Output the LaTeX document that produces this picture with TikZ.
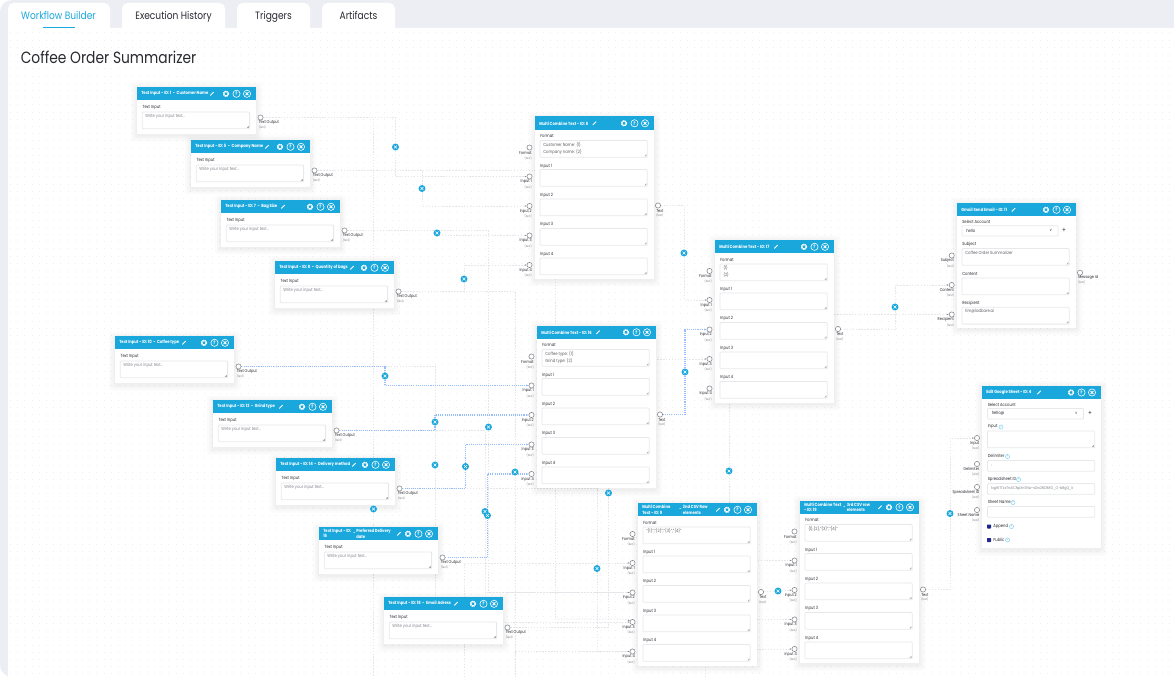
\documentclass[tikz,border=0pt]{standalone}
\usepackage{fontspec}
\setmainfont{Poppins}[FakeStretch=0.85]
\usetikzlibrary{arrows.meta}

\definecolor{flowblue}{RGB}{26,167,220}
\definecolor{framegray}{RGB}{236,238,243}
\definecolor{griddot}{RGB}{238,239,243}
\definecolor{wiregray}{RGB}{228,230,234}
\definecolor{wireblue}{RGB}{150,190,250}
\definecolor{boxgray}{RGB}{230,232,236}
\definecolor{inktext}{RGB}{40,42,48}
\definecolor{softtext}{RGB}{130,133,140}
\definecolor{navycheck}{RGB}{30,40,140}

\pgfdeclarelayer{panellayer}
\pgfdeclarelayer{wirelayer}
\pgfsetlayers{panellayer,wirelayer,main}

\tikzset{
  wire/.style={draw=wiregray,line width=.6pt,dash pattern=on 1.1pt off 1.1pt,-{Latex[length=1.4pt,width=1.1pt,color=softtext]}},
  wireplain/.style={draw=wiregray,line width=.6pt,dash pattern=on 1.1pt off 1.1pt},
  bluewire/.style={draw=wireblue,line width=.8pt,dash pattern=on .8pt off .8pt,-{Latex[length=1.8pt,width=1.5pt]}},
  cardfill/.style={fill=white,anchor=north west,inner sep=0,outer sep=0,minimum width=89.25pt},
  headfill/.style={fill=flowblue,anchor=north west,inner sep=0,outer sep=0,minimum width=89.25pt,minimum height=10.1pt},
  headtext/.style={text=white,anchor=west,inner sep=0,align=left,font=\fontsize{3.3}{3.9}\selectfont\bfseries},
  pencil/.style={fill=white,rotate=45,inner sep=0,minimum width=3.6pt,minimum height=.7pt},
  gearicon/.style={circle,inner sep=0,minimum size=3.6pt,fill=flowblue,draw=white,line width=1.2pt,dash pattern=on .85pt off .6pt,
    preaction={draw=white,line width=.6pt,dash pattern=on 20pt off 0pt}},
  helpicon/.style={circle,draw=white,line width=.45pt,inner sep=0,minimum size=5.4pt,text=white,font=\fontsize{3.6}{4}\selectfont\bfseries},
  closeicon/.style={circle,draw=white,line width=.45pt,inner sep=0,minimum size=5.4pt,
    path picture={\draw[white,line width=.6pt] ([xshift=-1.1pt,yshift=-1.1pt]path picture bounding box.center) -- ([xshift=1.1pt,yshift=1.1pt]path picture bounding box.center);
      \draw[white,line width=.6pt] ([xshift=-1.1pt,yshift=1.1pt]path picture bounding box.center) -- ([xshift=1.1pt,yshift=-1.1pt]path picture bounding box.center);}},
  delbtn/.style={circle,fill=flowblue,inner sep=0,minimum size=5.2pt,
    path picture={\draw[white,line width=.45pt] ([xshift=-1.1pt,yshift=-1.1pt]path picture bounding box.center) -- ([xshift=1.1pt,yshift=1.1pt]path picture bounding box.center);
      \draw[white,line width=.45pt] ([xshift=-1.1pt,yshift=1.1pt]path picture bounding box.center) -- ([xshift=1.1pt,yshift=-1.1pt]path picture bounding box.center);}},
  port/.style={circle,fill=white,draw=softtext,line width=.4pt,inner sep=0,minimum size=3.9pt},
  portlab/.style={text=inktext,inner sep=0,font=\fontsize{3.1}{4}\selectfont},
  porttype/.style={text=softtext,inner sep=0,font=\fontsize{2.3}{3}\selectfont},
  fieldlab/.style={text=inktext,anchor=west,inner sep=0,font=\fontsize{3.3}{4}\selectfont},
  fieldtext/.style={text=inktext!75,anchor=north west,inner sep=0,align=left,font=\fontsize{3.3}{5}\selectfont},
  hinttext/.style={text=softtext,anchor=north west,inner sep=0,font=\fontsize{3.3}{5}\selectfont},
  linebox/.style={draw=boxgray,fill=white,line width=.6pt,rounded corners=.7pt,anchor=north west,inner sep=0,outer sep=0,minimum width=80.5pt},
  fieldbox/.style={linebox,minimum height=12.6pt,
    path picture={\draw[softtext,line width=.25pt] ([xshift=-2pt,yshift=.7pt]path picture bounding box.south east) -- ([xshift=-.7pt,yshift=2pt]path picture bounding box.south east);
      \draw[softtext,line width=.25pt] ([xshift=-1.2pt,yshift=.7pt]path picture bounding box.south east) -- ([xshift=-.7pt,yshift=1.2pt]path picture bounding box.south east);}},
  helpdot/.style={circle,draw=flowblue!55,line width=.35pt,inner sep=0,minimum size=3.1pt,text=flowblue!70,font=\fontsize{2.2}{2.5}\selectfont},
  checkbox/.style={fill=navycheck,rounded corners=.4pt,inner sep=0,minimum size=3pt,text=white,font=\fontsize{2.4}{2.5}\selectfont},
  plussign/.style={text=inktext,inner sep=0,font=\fontsize{5}{5}\selectfont},
  tab/.style={fill=white,rounded corners=4pt},
  tablabel/.style={text=inktext,anchor=base,inner sep=0,font=\fontsize{8}{9}\selectfont},
}

\newcommand{\softcard}[4]{%
  \foreach \spread in {1,2.5,4,6}
    \fill[black,opacity=.014,rounded corners=2pt] ({#2-\spread},{#3-\spread+1.5}) rectangle ({#2+119+\spread},{#3+#4+\spread+1.5});
  \node [cardfill,minimum height={#4*0.75pt}] (#1) at (#2,#3) {};
}
\newcommand{\headbar}[5]{%
  \node [headfill] (#1head) at (#2,#3) {};
  \node [headtext] (#1title) at ({#2+4},{#3+6.8}) {#5};
  \node [pencil] (#1pen) at ({#2+#4},{#3+6.8}) {};
  \node [gearicon] (#1gear) at ({#2+89},{#3+6.8}) {};
  \node [helpicon] (#1help) at ({#2+99.5},{#3+6.8}) {?};
  \node [closeicon] (#1close) at ({#2+110},{#3+6.8}) {};
}
\newcommand{\inport}[4]{%
  \node [port] (#1) at (#2,#3) {};
  \node [portlab,anchor=east] (#1lab) at ({#2+2.5},{#3+5.3}) {#4};
  \node [porttype,anchor=east] (#1type) at ({#2+2.5},{#3+10.8}) {(text)};
}
\newcommand{\outport}[4]{%
  \node [port] (#1) at (#2,#3) {};
  \node [portlab,anchor=west] (#1lab) at ({#2-2},{#3+5.2}) {#4};
  \node [porttype,anchor=west] (#1type) at ({#2-2},{#3+10}) {(text)};
}
% text input card
\newcommand{\textcard}[5]{%
  \softcard{#1}{#2}{#3}{47}
  \headbar{#1}{#2}{#3}{#4}{#5}
  \node [fieldlab] (#1lab) at ({#2+5.3},{#3+20.5}) {Text Input};
  \node [fieldbox] (#1box) at ({#2+5.3},{#3+25}) {};
  \node [hinttext] (#1hint) at ({#2+8},{#3+27}) {Write your input text...};
  \outport{#1out}{#2+123.5}{#3+30.5}{Text Output}
}
% multi combine card
\newcommand{\combcard}[6]{%
  \softcard{#1}{#2}{#3}{162.5}
  \headbar{#1}{#2}{#3}{#4}{#5}
  \node [fieldlab] (#1fmtlab) at ({#2+5},{#3+19.5}) {Format};
  \node [fieldbox] (#1fmtbox) at ({#2+5},{#3+24}) {};
  \node [fieldtext] (#1fmttext) at ({#2+8},{#3+25.5}) {#6};
  \inport{#1fmt}{#2-5.5}{#3+31}{Format}
  \foreach \n/\py/\ly/\by in {1/60/49.5/53,2/89.5/78.7/82.5,3/119/108/112,4/148.5/137.5/141.5} {
    \node [fieldlab] (#1lab\n) at ({#2+5},{#3+\ly}) {Input \n};
    \node [fieldbox] (#1box\n) at ({#2+5},{#3+\by}) {};
    \inport{#1in\n}{#2-5.5}{#3+\py}{Input \n}
  }
  \outport{#1out}{#2+123}{#3+89}{Text}
}

\begin{document}
\begin{tikzpicture}[x=0.75pt,y=0.75pt,yscale=-1,xscale=1]
\useasboundingbox (0,0) rectangle (1174,677);

\begin{pgfonlayer}{panellayer}
%Frame and panel
\fill [framegray,rounded corners=9pt] (0,0) rectangle (1190,677);
\fill [white,rounded corners=6pt] (8,28) rectangle (1190,690);
\fill [white] (8,28) rectangle (30,60);
%Tabs
\fill [tab] (8,3) rectangle (110,40);
\fill [tab] (122,3) rectangle (225,40);
\fill [tab] (237,3) rectangle (310,40);
\fill [tab] (322,3) rectangle (395,40);
\fill [white] (8,28) rectangle (1190,40);
%Dots
\foreach \ypos in {33,40.2,...,677}
  \draw [griddot,line width=.75pt,dash pattern=on .75pt off 4.65pt] (10,\ypos) -- (1174,\ypos);
\end{pgfonlayer}

% Text Node
\node [tablabel,text=flowblue] (tabbuilder) at (58.5,20) {Workflow Builder};
\node [tablabel] (tabhistory) at (173.5,20) {Execution History};
\node [tablabel] (tabtriggers) at (273.5,20) {Triggers};
\node [tablabel] (tabartifacts) at (358.5,20) {Artifacts};
\fill [flowblue] (43,27) rectangle (75,28.5);
\node [inner sep=0,anchor=base west,text=inktext,font=\fontsize{12.2}{15}\selectfont] (pagetitle) at (20.5,64) {Coffee Order Summarizer};

%Text input cards
\textcard{tone}{137}{87}{75}{Text Input - ID: 1 \ -\ \ Customer Name}
\textcard{tfive}{191}{140}{76}{Text Input - ID: 5 \ -\ \ Company Name}
\textcard{tseven}{221}{200}{62}{Text Input - ID: 7 \ -\ \ Bag Size}
\textcard{teight}{275}{261}{77}{Text Input - ID: 8 \ -\ \ Quantity of bags}
\textcard{tten}{115}{336}{69}{Text Input - ID: 10 \ -\ \ Coffee type}
\textcard{ttwelve}{213}{400}{68}{Text Input - ID: 12 \ -\ \ Grind type}
\textcard{tfourteen}{276}{458}{78}{Text Input - ID: 14 \ -\ \ Delivery method}
\textcard{tsixteen}{319}{527}{80}{Text Input - ID:\\16}
\node [headtext] (tsixteendash) at (353,533.8) {-};
\node [headtext] (tsixteensub) at (356,533.8) {Preferred Delivery\\date};
\textcard{teighteen}{384}{597}{72}{Text Input - ID: 18 \ -\ \ Email Adress}

%Multi combine cards
\combcard{mone}{535}{116.5}{59.5}{Multi Combine Text - ID: 6}{Customer Name: \{1\}\\Company name: \{2\}}
\combcard{mtwo}{537}{325.5}{61}{Multi Combine Text - ID: 16}{Coffee type: \{1\}\\Grind type: \{2\}}
\combcard{mthree}{715}{240}{61}{Multi Combine Text - ID: 17}{\{1\}\\\{2\}}
\combcard{mfour}{638}{503}{80}{Multi Combine\\Text - ID: 9}{"\{1\}","\{2\}","\{3\}","\{4\}"}
\node [headtext] (mfourdash) at (679,509.8) {-};
\node [headtext] (mfoursub) at (682.7,509.8) {2nd CSV Row\\elements};
\combcard{mfive}{800}{500.5}{80}{Multi Combine Text\\- ID: 19}{\{1\},\{2\},"\{3\}","\{4\}"}
\node [headtext] (mfivedash) at (843,507.3) {-};
\node [headtext] (mfivesub) at (846.7,507.3) {3rd CSV row\\elements};

%Gmail card
\softcard{gmail}{957}{203}{124.5}
\headbar{gmail}{957}{203}{56.5}{Gmail Send Email - ID: 11}
\node [fieldlab] (gmailacclab) at (962,222) {Select Account};
\node [linebox,minimum width=72pt,minimum height=7.8pt] (gmailacc) at (962,225.7) {};
\node [fieldlab] (gmailaccval) at (966,231) {hello};
\node [fieldlab] (gmailchev) at (1049.5,230.5) {\fontsize{3}{3}\selectfont v};
\node [plussign] (gmailplus) at (1064,230.5) {+};
\node [fieldlab] (gmailsublab) at (962,244) {Subject};
\node [fieldbox] (gmailsubbox) at (962,248.5) {};
\node [fieldtext] (gmailsubval) at (965,250.5) {Coffee Order Summarizer};
\node [fieldlab] (gmailconlab) at (962,273.5) {Content};
\node [fieldbox] (gmailconbox) at (962,278) {};
\node [fieldlab] (gmailreclab) at (962,303) {Recipient};
\node [fieldbox] (gmailrecbox) at (962,307.3) {};
\node [fieldtext] (gmailrecval) at (965,309) {tim@ladbare.ai};
\inport{gmsubject}{951.7}{255.5}{Subject}
\inport{gmcontent}{951.7}{285}{Content}
\inport{gmrecipient}{951.7}{314.5}{Recipient}
\outport{gmmessage}{1080}{272.7}{Message Id}

%Google sheet card
\softcard{gsheet}{982}{385.7}{162.5}
\headbar{gsheet}{982}{385.7}{57}{Edit Google Sheet - ID: 4}
\node [fieldlab] (gsacclab) at (987.5,405) {Select Account};
\node [linebox,minimum width=72pt,minimum height=7.8pt] (gsacc) at (987.5,408.5) {};
\node [fieldlab] (gsaccval) at (991.5,413.5) {hello@};
\node [fieldlab] (gschev) at (1075,413) {\fontsize{3}{3}\selectfont v};
\node [plussign] (gsplus) at (1090,413) {+};
\node [fieldlab] (gsinputlab) at (987.5,427) {Input};
\node [helpdot] (gsinputhelp) at (1001,427) {?};
\node [fieldbox] (gsinputbox) at (987.5,431) {};
\node [fieldlab] (gsdelimlab) at (987.5,456) {Delimiter};
\node [helpdot] (gsdelimhelp) at (1007.5,456.5) {?};
\node [linebox,minimum height=8pt] (gsdelimbox) at (987.5,460.5) {};
\node [fieldlab,text=softtext] (gsdelimval) at (991,466) {,};
\node [fieldlab] (gsidlab) at (987.5,479) {Spreadsheet ID};
\node [helpdot] (gsidhelp) at (1018.5,479.5) {?};
\node [linebox,minimum height=8pt] (gsidbox) at (987.5,483.5) {};
\node [fieldlab,text=softtext,font=\fontsize{2.9}{4}\selectfont] (gsidval) at (991,488.8) {1xgWTTcxTnAiCNpXnSNw-sDw2ND8XG\_O-bBgQ\_k};
\node [fieldlab] (gsnamelab) at (987.5,502) {Sheet Name};
\node [helpdot] (gsnamehelp) at (1013,502.5) {?};
\node [linebox,minimum height=8pt] (gsnamebox) at (987.5,506.5) {};
\node [checkbox] (gsappend) at (989,526.5) {};
\node [fieldlab] (gsappendlab) at (993,526.5) {Append};
\node [helpdot] (gsappendhelp) at (1011.5,526.5) {?};
\node [checkbox] (gspublic) at (989,540) {};
\node [fieldlab] (gspubliclab) at (993,540) {Public};
\node [helpdot] (gspublichelp) at (1007.5,540) {?};
\inport{gsinput}{977}{438}{Input}
\inport{gsdelim}{977}{464}{Delimiter}
\inport{gssheetid}{977}{487}{Spreadsheet ID}
\inport{gssheetname}{977}{510}{Sheet Name}

%Delete buttons on the wires
\node [delbtn] (delone) at (395.5,147) {};
\node [delbtn] (deltwo) at (422,188.5) {};
\node [delbtn] (delthree) at (437,233) {};
\node [delbtn] (delfour) at (464,279) {};
\node [delbtn] (delfive) at (385,376) {};
\node [delbtn] (delsix) at (435,422) {};
\node [delbtn] (delseven) at (488.5,427) {};
\node [delbtn] (deleight) at (435,465) {};
\node [delbtn] (delnine) at (465.5,466.5) {};
\node [delbtn] (delten) at (515,472) {};
\node [delbtn] (deleleven) at (373.5,509) {};
\node [delbtn] (deltwelve) at (608.5,493) {};
\node [delbtn] (delthirteen) at (485,511.5) {};
\node [delbtn] (delfourteen) at (487.5,515.5) {};
\node [delbtn] (delfifteen) at (597,568.5) {};
\node [delbtn] (delsixteen) at (684,253) {};
\node [delbtn] (delseventeen) at (685,372) {};
\node [delbtn] (deleighteen) at (729,471) {};
\node [delbtn] (delnineteen) at (895,307) {};
\node [delbtn] (deltwenty) at (778,591) {};
\node [delbtn] (delofsheet) at (950,513.5) {};

\coordinate (bottomone) at (373.5,677);
\coordinate (bottomtwo) at (515,677);
\coordinate (bottomthree) at (464.5,677);
\coordinate (bottomfour) at (705,677);
\coordinate (bendmid) at (555,619);
\coordinate (stubmid) at (625,619);

\begin{pgfonlayer}{wirelayer}
%Gray wires
\draw [wireplain] (toneout) -| (deleleven);
\draw [wireplain] (deleleven) -- (bottomone);
\draw [wire] (toneout) -| (delone) |- (monein1);
\draw [wire] (tfiveout) -| (deltwo) |- (monein2);
\draw [wireplain] (tfiveout) -| (bendmid);
\draw [wire] (bendmid) -- (stubmid) -- (mfourin3);
\draw [wire] (tsevenout) -| (delthree) |- (monein3);
\draw [wireplain] (tsevenout) -| (delseven);
\draw [wire] (delseven) |- (mfourin2);
\draw [wire] (teightout) -| (delfour) |- (monein4);
\draw [wireplain] (teightout) -| (bottomtwo);
\draw [wire] (bottomtwo) |- (mfourin4);
\draw [wireplain] (ttenout) -| (deleight);
\draw [wire] (deleight) |- (mfourin3);
\draw [wireplain] (ttwelveout) -| (delthirteen);
\draw [wire] (delthirteen) |- (mfourin2);
\draw [wireplain] (tfourteenout) -| (delfifteen);
\draw [wire] (delfifteen) |- (mfourin4);
\draw [wire] (bottomthree) |- (mfourin1);
\draw [wireplain] (teighteenout) -| (deltwelve);
\draw [wire] (deltwelve) |- (mthreein3);
\draw [wire] (moneout) -| (delsixteen) |- (mthreein1);
\draw [wire] (mthreeout) -| (delnineteen) |- (gmcontent);
\draw [wire] (deleighteen) |- (gmrecipient);
\draw [wire] (deleighteen) |- (mfivein1);
\draw [wire] (mfourout) -- (deltwenty) -- (mfivein2);
\draw [wire] (bottomfour) |- (mfivein3);
\draw [wire] (bottomfour) |- (mfivein4);
\draw [wire] (mfiveout) -| (delofsheet) |- (gsinput);
%Blue wires
\draw [bluewire] (ttenout) -| (delfive) |- (mtwoin1);
\draw [bluewire] (ttwelveout) -| (delsix) |- (mtwoin2);
\draw [bluewire] (tfourteenout) -| (delnine) |- (mtwoin3);
\draw [bluewire] (tsixteenout) -| (delfourteen) |- (mtwoin4);
\draw [bluewire] (mtwoout) -| (delseventeen) |- (mthreein2);
\end{pgfonlayer}

\end{tikzpicture}
\end{document}
